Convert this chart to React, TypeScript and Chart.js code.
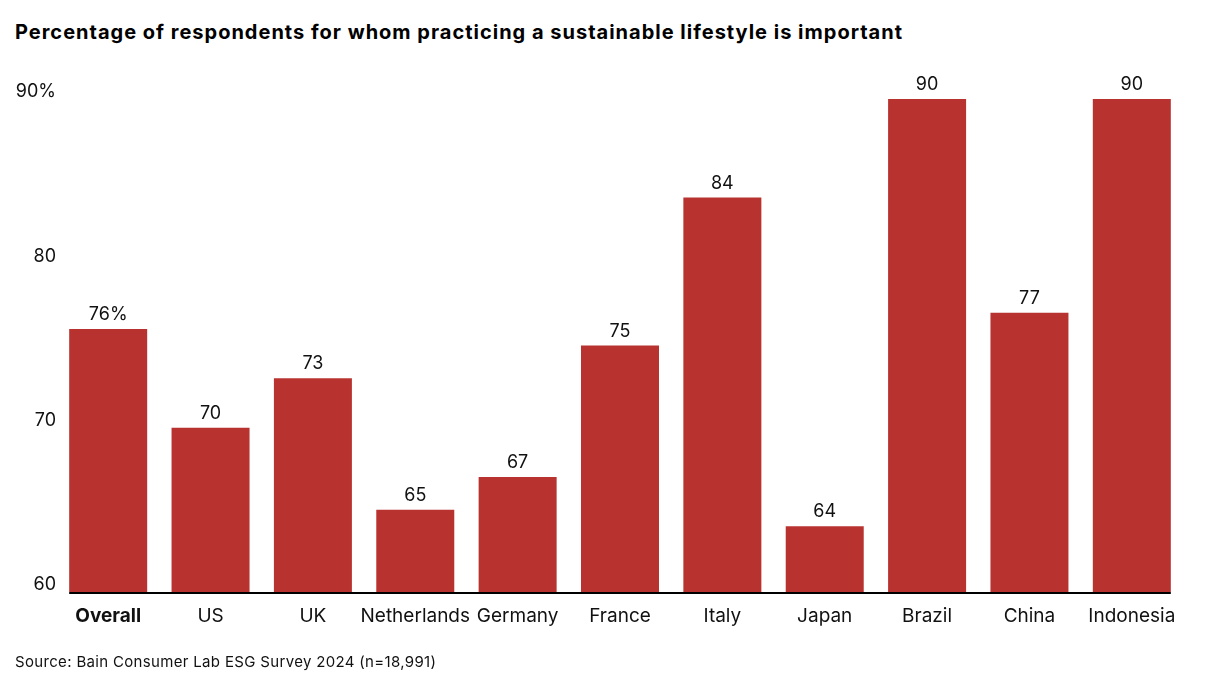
import React, { useEffect, useRef } from "react";
import { Chart, registerables } from "chart.js";

Chart.register(...registerables);

const categories = ["Overall", "US", "UK", "Netherlands", "Germany", "France", "Italy", "Japan", "Brazil", "China", "Indonesia"];
const values = [76, 70, 73, 65, 67, 75, 84, 64, 90, 77, 90];
const valueLabels = ["76%", "70", "73", "65", "67", "75", "84", "64", "90", "77", "90"];
const yTicks = [60, 70, 80, 90];
const yTickLabels = ["60", "70", "80", "90%"];

const TITLE = "Percentage of respondents for whom practicing a sustainable lifestyle is important";
const SOURCE = "Source: Bain Consumer Lab ESG Survey 2024 (n=18,991)";
const FONT = "Inter, 'Noto Sans', sans-serif";
const BAR = "#B83330";

export default function App() {
  const ref = useRef<HTMLCanvasElement>(null);
  useEffect(() => {
    const canvas = ref.current;
    if (!canvas) return;
    const labelPlugin = {
      id: "valueLabels",
      afterDatasetsDraw(chart: any) {
        const ctx = chart.ctx;
        const meta = chart.getDatasetMeta(0);
        ctx.save();
        ctx.fillStyle = "#111";
        ctx.font = `18px ${FONT}`;
        ctx.textAlign = "center";
        ctx.textBaseline = "alphabetic";
        meta.data.forEach((bar: any, i: number) => {
          ctx.fillText(valueLabels[i], bar.x, bar.y - 9);
        });
        // baseline axis line spanning the bars
        const first = meta.data[0];
        const last = meta.data[meta.data.length - 1];
        const y0 = chart.scales.y.getPixelForValue(60);
        ctx.strokeStyle = "#000";
        ctx.lineWidth = 2;
        ctx.beginPath();
        ctx.moveTo(first.x - first.width / 2, y0 + 1);
        ctx.lineTo(last.x + last.width / 2, y0 + 1);
        ctx.stroke();
        ctx.restore();
      },
    };
    const chart = new Chart(canvas, {
      type: "bar",
      data: {
        labels: categories,
        datasets: [
          {
            data: values,
            backgroundColor: BAR,
            borderWidth: 0,
            categoryPercentage: 1,
            barPercentage: 0.762,
          },
        ],
      },
      options: {
        animation: false,
        responsive: false,
        layout: { padding: { top: 99, right: 31, left: 0, bottom: 0 } },
        plugins: { legend: { display: false }, tooltip: { enabled: false } },
        scales: {
          x: {
            grid: { display: false, drawTicks: false },
            border: { display: false },
            ticks: {
              padding: 13,
              color: "#111",
              maxRotation: 0,
              autoSkip: false,
              font: (c: any) => ({ family: FONT, size: 19, weight: c.index === 0 ? "bold" : "normal" }),
            },
            afterFit: (s: any) => {
              s.height = 98;
            },
          },
          y: {
            min: 60,
            max: 90,
            grid: { display: false, drawTicks: false },
            border: { display: false },
            afterBuildTicks: (s: any) => {
              s.ticks = yTicks.map((v) => ({ value: v }));
            },
            ticks: {
              padding: 1,
              color: "#111",
              labelOffset: -7,
              font: { family: FONT, size: 18 },
              callback: (v: any) => yTickLabels[yTicks.indexOf(Number(v))] ?? String(v),
            },
            afterFit: (s: any) => {
              s.width = 57;
            },
          },
        },
      },
      plugins: [labelPlugin],
    });
    return () => chart.destroy();
  }, []);

  return (
    <div style={{ position: "fixed", left: 0, top: 0, width: 1214, height: 690, background: "#fff", overflow: "hidden" }}>
      <div
        style={{
          position: "absolute",
          left: 15,
          top: 20,
          fontFamily: FONT,
          fontWeight: 700,
          fontSize: 20,
          letterSpacing: "1px",
          lineHeight: "24px",
          color: "#000",
          whiteSpace: "nowrap",
        }}
      >
        {TITLE}
      </div>
      <canvas ref={ref} width={1214} height={690} style={{ position: "absolute", left: 0, top: 0 }} />
      <div
        style={{
          position: "absolute",
          left: 15,
          top: 653,
          fontFamily: FONT,
          fontSize: 15,
          letterSpacing: "0.33px",
          lineHeight: "18px",
          color: "#111",
          whiteSpace: "nowrap",
        }}
      >
        {SOURCE}
      </div>
    </div>
  );
}
